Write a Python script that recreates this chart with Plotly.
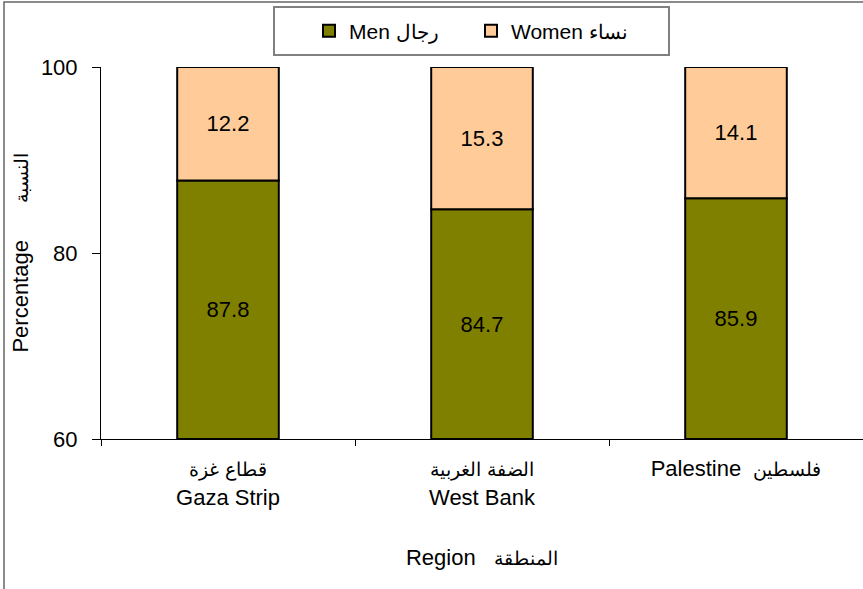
import plotly.graph_objects as go

# values (percent)
regions = [
    "<span style='font-size:19px'>قطاع غزة</span><br>Gaza Strip",
    "<span style='font-size:19px'>الضفة الغربية</span><br>West Bank",
    "Palestine\u00a0\u00a0<span style='font-size:19px'>فلسطين</span>",
]
men = [87.8, 84.7, 85.9]
women = [12.2, 15.3, 14.1]
y_floor = 60

FONT = "Liberation Sans, Arial, sans-serif"
OLIVE = "#808000"
PEACH = "#FFCC99"

# plot area in px: x 101..863, y 67..439
def px_x(v):
    return (v - 101) / 762


def px_y(v):
    return 1 + (67 - v) / 372


fig = go.Figure()
# axis starts at 60, so men's bars are drawn from the floor to keep labels centred
fig.add_trace(go.Bar(
    x=regions, y=[m - y_floor for m in men], base=[y_floor] * len(men),
    name="Men <span style='font-size:20px'>رجال</span>",
    marker=dict(color=OLIVE, line=dict(color="black", width=2)),
    text=[f"{v:.1f}" for v in men], textposition="inside", insidetextanchor="middle",
    textfont=dict(color="black", size=22, family=FONT), width=0.4,
    hoverinfo="skip",
))
fig.add_trace(go.Bar(
    x=regions, y=women, base=men,
    name="Women <span style='font-size:20px'>نساء</span>",
    marker=dict(color=PEACH, line=dict(color="black", width=2)),
    text=[f"{v:.1f}" for v in women], textposition="inside", insidetextanchor="middle",
    textfont=dict(color="black", size=22, family=FONT), width=0.4,
    hoverinfo="skip",
))

fig.update_layout(
    width=863, height=589,
    margin=dict(l=101, r=0, t=67, b=150),
    paper_bgcolor="white", plot_bgcolor="white",
    font=dict(family=FONT, size=22, color="black"),
    barmode="overlay",
    showlegend=True,
    legend=dict(
        orientation="h", x=px_x(309), xanchor="left", y=px_y(31), yanchor="middle",
        borderwidth=0, bgcolor="rgba(0,0,0,0)",
        entrywidth=117, font=dict(size=21, family=FONT),
        traceorder="normal",
    ),
    shapes=[
        # outer chart border (right/bottom fall outside the picture)
        dict(type="rect", xref="paper", yref="paper",
             x0=px_x(4), x1=1.5, y0=-1, y1=px_y(2),
             line=dict(color="#666666", width=1.5), layer="below"),
        # legend frame
        dict(type="rect", xref="paper", yref="paper",
             x0=px_x(274), x1=px_x(669), y0=px_y(55), y1=px_y(7),
             line=dict(color="#808080", width=2), layer="below"),
    ],
)
fig.update_yaxes(
    range=[60, 100], dtick=20, ticks="outside", ticklen=8, tickcolor="black",
    showline=True, linecolor="black", linewidth=1, showgrid=False, zeroline=False,
    ticklabelstandoff=10,
    title=dict(
        text="Percentage\u00a0\u00a0\u00a0\u00a0\u00a0\u00a0<span style='font-size:19px'>النسبة</span>",
        standoff=6, font=dict(size=22),
    ),
)
fig.update_xaxes(
    range=[-0.5, 2.5], tickson="boundaries", ticks="outside", ticklen=6, tickcolor="black",
    showline=True, linecolor="black", linewidth=1, showgrid=False,
    ticklabelstandoff=10,
    title=dict(
        text="\u00a0\u00a0\u00a0\u00a0Region\u00a0\u00a0\u00a0<span style='font-size:19px'>المنطقة</span>",
        standoff=40, font=dict(size=22),
    ),
)

fig.write_html(
    "out.html",
    config={"displayModeBar": False},
    post_script="document.body.style.margin='0';document.body.style.overflow='hidden';",
)
